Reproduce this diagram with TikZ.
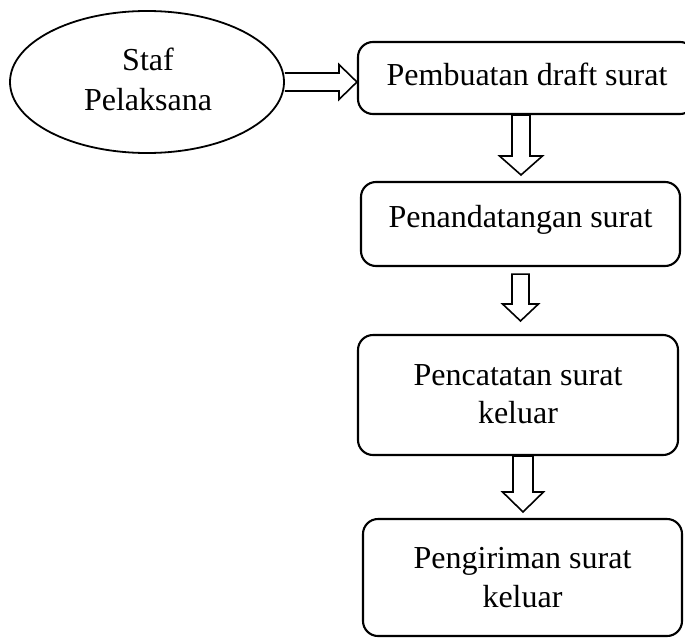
\documentclass[tikz,border=0pt]{standalone}
\usepackage{fontspec}
\setmainfont{Liberation Serif}
\usetikzlibrary{calc,shapes.geometric}
\newcommand{\myharrow}[2]{\draw[barrow] let \p1=(#1), \p2=(#2) in
  (\x1,\y1+9pt) -- (\x2-18pt,\y1+9pt) -- (\x2-18pt,\y1+17.5pt) -- (\x2,\y1)
  -- (\x2-18pt,\y1-17.5pt) -- (\x2-18pt,\y1-9pt) -- (\x1,\y1-9pt);}
\newcommand{\myvarrow}[5]{\draw[barrow] let \p1=(#1), \p2=(#2) in
  (\x1-#3,\y1) -- (\x1-#3,\y2+#5) -- (\x1-#4,\y2+#5) -- (\x1,\y2)
  -- (\x1+#4,\y2+#5) -- (\x1+#3,\y2+#5) -- (\x1+#3,\y1) -- cycle;}
\begin{document}
\begin{tikzpicture}[x=1pt,y=-1pt,
  stagebox/.style={draw, line width=2.1pt, rounded corners=15pt, inner sep=0pt},
  txt/.style={font=\fontsize{32}{38}\selectfont, inner sep=0pt, anchor=base},
  barrow/.style={draw, line width=1.6pt, line join=miter}]
\useasboundingbox (0,0) rectangle (685,637);
% start ellipse
\node[draw, ellipse, line width=1.8pt, minimum width=274pt, minimum height=142pt, inner sep=0pt] (ell) at (147,82) {};
\node[txt] (t0a) at (148,70) {Staf};
\node[txt] (t0b) at (148,110) {Pelaksana};
% boxes
\node[stagebox, minimum width=337pt, minimum height=72pt] (b1) at (526.5,78) {};
\node[txt] (t1) at (527,85) {Pembuatan draft surat};
\node[stagebox, minimum width=319pt, minimum height=84pt] (b2) at (520.5,224) {};
\node[txt] (t2) at (520.5,227) {Penandatangan surat};
\node[stagebox, minimum width=320pt, minimum height=120pt] (b3) at (518,395) {};
\node[txt] (t3a) at (518,385) {Pencatatan surat};
\node[txt] (t3b) at (518,423) {keluar};
\node[stagebox, minimum width=319pt, minimum height=117pt] (b4) at (522.5,577.5) {};
\node[txt] (t4a) at (522.5,568) {Pengiriman surat};
\node[txt] (t4b) at (522.5,607) {keluar};
% connector coordinates
\coordinate (h0) at (ell.east);
\coordinate (h1) at (ell.east -| b1.west);
\coordinate (a1s) at ($(b1.south)+(-5.5,0)$);
\coordinate (a1e) at ($(a1s |- b2.north)+(0,-6)$);
\coordinate (a2s) at ($(b2.south)+(0,7)$);
\coordinate (a2e) at ($(a2s |- b3.north)+(0,-13)$);
\coordinate (a3s) at ($(b3.south)+(5,0)$);
\coordinate (a3e) at ($(a3s |- b4.north)+(0,-6)$);
% block arrows
\myharrow{h0}{h1}
\myvarrow{a1s}{a1e}{9pt}{21.5pt}{19pt}
\myvarrow{a2s}{a2e}{8.5pt}{18pt}{17pt}
\myvarrow{a3s}{a3e}{10pt}{20.5pt}{20pt}
\end{tikzpicture}
\end{document}
